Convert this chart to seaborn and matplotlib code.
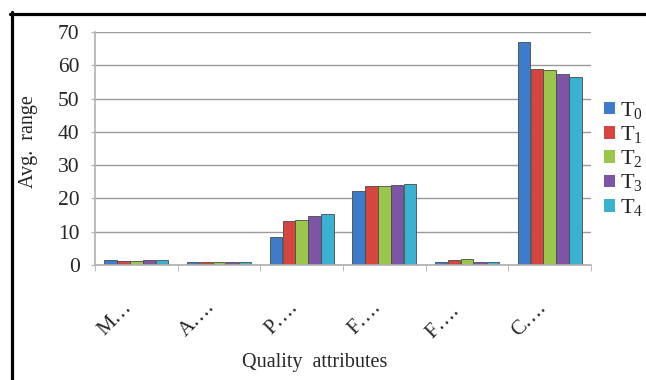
import pandas as pd
import numpy as np
import matplotlib
matplotlib.use('Agg')
import matplotlib.pyplot as plt
import matplotlib.patches as mpatches
import seaborn as sns

# data
categories = ['M\u2026', 'A\u2026.', 'P\u2026.', 'F\u2026.', 'F\u2026. ', 'C\u2026.']
series = ['T0', 'T1', 'T2', 'T3', 'T4']
t0 = [1.5, 0.9, 8.4, 22.2, 0.8, 67.0]
t1 = [1.3, 1.0, 13.2, 23.6, 1.6, 59.0]
t2 = [1.2, 1.0, 13.5, 23.8, 1.8, 58.6]
t3 = [1.4, 0.8, 14.7, 24.1, 1.0, 57.5]
t4 = [1.5, 1.0, 15.2, 24.4, 1.0, 56.6]
colors = ['#3D7CCB', '#D4463F', '#9AC74B', '#7E55A6', '#38B2D0']

rows = []
for s, vals in zip(series, [t0, t1, t2, t3, t4]):
    for c, v in zip(categories, vals):
        rows.append({'attr': c, 'series': s, 'value': v})
df = pd.DataFrame(rows)

sns.set_style('white')
plt.rcParams['font.family'] = ['Liberation Serif', 'DejaVu Serif']
plt.rcParams['mathtext.fontset'] = 'custom'
plt.rcParams['mathtext.rm'] = 'Liberation Serif'

fig = plt.figure(figsize=(6.46, 3.80), dpi=100)
ax = fig.add_axes([95/646, 1-265/380, 496/646, 233/380])

sns.barplot(data=df, x='attr', y='value', hue='series', palette=colors,
            width=0.78, gap=0.04, linewidth=0.6, edgecolor='#4a4a4a',
            saturation=1, order=categories, hue_order=series, ax=ax, legend=False)

ax.set_ylim(0, 70)
ax.set_xlim(-0.5, len(categories) - 0.5)
ax.set_yticks(range(0, 71, 10))
ax.yaxis.grid(True, color='#9a9a9a', linewidth=1.0)
ax.set_axisbelow(True)
for side in ['top', 'right']:
    ax.spines[side].set_visible(False)
ax.spines['left'].set_color('#b0b0b0')
ax.spines['bottom'].set_color('#b0b0b0')
ax.spines['left'].set_linewidth(1.2)
ax.spines['bottom'].set_linewidth(1.2)

ax.tick_params(axis='y', labelsize=15.5, length=3, color='#b0b0b0', pad=8, left=True)
ax.set_xticks(np.arange(-0.5, len(categories) + 0.5, 1), minor=True)
ax.tick_params(axis='x', which='minor', length=4, color='#b0b0b0', bottom=True)
ax.tick_params(axis='x', which='major', length=0, pad=24)
ax.set_xticks(range(len(categories)))
ax.set_xticklabels(categories, rotation=45, ha='right', va='top', fontsize=15)
ax.set_xlabel('')
ax.set_ylabel('')

fig.text(28/646, 1-142/380, 'Avg.  range', rotation=90, ha='center', va='center', fontsize=14.5)
fig.text(315/646, 1-363/380, 'Quality  attributes', ha='center', va='center', fontsize=14.5)

handles = [mpatches.Patch(facecolor=c, edgecolor='none') for c in colors]
labels = [r'$\mathrm{T}_{0}$', r'$\mathrm{T}_{1}$', r'$\mathrm{T}_{2}$',
          r'$\mathrm{T}_{3}$', r'$\mathrm{T}_{4}$']
fig.legend(handles, labels, loc='upper left', bbox_to_anchor=(604/646, 1-100/380),
           frameon=False, fontsize=16, handlelength=0.5, handleheight=0.5,
           handletextpad=0.2, labelspacing=0.12, borderpad=0, borderaxespad=0)

# black frame on left and top like the source figure
fig.add_artist(plt.Line2D([11.5/646, 11.5/646], [0, 1-12/380], color='black', linewidth=2.3))
fig.add_artist(plt.Line2D([10/646, 1], [1-13.5/380, 1-13.5/380], color='black', linewidth=2.3))

fig.savefig('out.png', dpi=100)
